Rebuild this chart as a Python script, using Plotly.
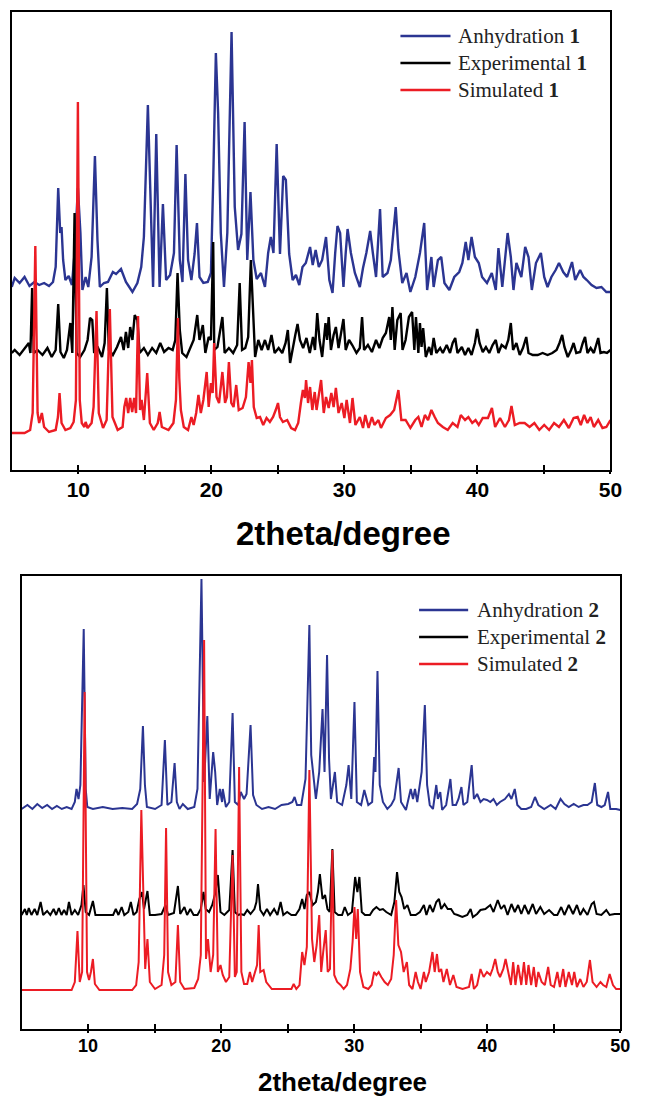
import plotly.graph_objects as go

# ---------------- Compound 1 (top panel) ----------------
# 2theta (degree) / intensity (a.u., patterns stacked with vertical offsets)
anh1_theta = [5.0, 5.22, 5.59, 5.96, 6.33, 6.7, 7.06, 7.43, 7.8, 8.1, 8.3, 8.49, 8.64, 8.74, 8.86, 9.03, 9.28, 9.52, 9.72, 9.97,
              10.16, 10.31, 10.55, 10.75, 11.0, 11.25, 11.44, 11.62, 11.93, 12.23, 12.6, 12.84, 13.21, 13.58, 13.83, 14.07, 14.44, 14.73, 14.93, 15.23,
              15.47, 15.62, 15.86, 16.11, 16.36, 16.6, 16.9, 17.19, 17.39, 17.63, 17.83, 18.05, 18.25, 18.5, 18.74, 18.92, 19.11, 19.4, 19.73, 19.97,
              20.14, 20.34, 20.51, 20.71, 20.95, 21.2, 21.52, 21.76, 22.01, 22.26, 22.5, 22.7, 22.94, 23.16, 23.41, 23.73, 24.03, 24.27, 24.47, 24.67,
              24.91, 25.16, 25.4, 25.6, 25.85, 26.11, 26.36, 26.61, 26.85, 27.1, 27.42, 27.62, 27.84, 28.08, 28.33, 28.62, 28.87, 29.11, 29.31, 29.48,
              29.68, 29.93, 30.1, 30.24, 30.49, 30.79, 31.16, 31.4, 31.65, 31.94, 32.14, 32.38, 32.68, 32.88, 33.24, 33.49, 33.86, 34.06, 34.35, 34.67,
              34.96, 35.33, 35.68, 36.0, 36.22, 36.54, 36.71, 37.03, 37.28, 37.52, 37.89, 38.26, 38.63, 38.87, 39.12, 39.32, 39.56, 39.81, 40.1, 40.35,
              40.72, 41.08, 41.38, 41.58, 41.87, 42.27, 42.51, 42.71, 42.93, 43.3, 43.59, 43.84, 44.09, 44.4, 44.77, 45.02, 45.27, 45.56, 45.88, 46.13,
              46.45, 46.74, 47.11, 47.35, 47.72, 47.97, 48.22, 48.58, 48.95, 49.32, 49.69, 50.0]
anh1_int = [183, 192, 187, 193, 184, 188, 185, 187, 184, 188, 203, 282, 237, 243, 210, 190, 194, 185, 217, 282,
            237, 180, 193, 183, 213, 314, 230, 183, 187, 188, 198, 196, 201, 188, 183, 178, 187, 203, 233, 365,
            253, 183, 336, 183, 266, 190, 195, 217, 325, 210, 188, 296, 210, 190, 216, 247, 193, 187, 188, 197,
            289, 417, 357, 237, 183, 237, 438, 263, 220, 236, 348, 210, 278, 210, 191, 197, 183, 217, 233, 217,
            326, 216, 294, 290, 216, 190, 195, 185, 203, 207, 223, 205, 220, 203, 210, 233, 190, 177, 217, 244,
            237, 183, 217, 241, 217, 197, 183, 202, 217, 239, 217, 193, 261, 193, 197, 210, 263, 220, 187, 197,
            178, 193, 217, 247, 180, 213, 183, 210, 213, 187, 180, 193, 198, 207, 228, 210, 233, 213, 207, 193,
            187, 197, 180, 222, 183, 237, 213, 180, 207, 193, 223, 213, 180, 207, 217, 193, 183, 193, 200, 207,
            198, 193, 208, 190, 200, 193, 190, 185, 182, 183, 178, 178]

exp1_theta = [5.0, 5.22, 5.59, 5.96, 6.28, 6.4, 6.53, 6.65, 6.94, 7.31, 7.68, 8.0, 8.3, 8.49, 8.66, 8.91, 9.15, 9.4, 9.55, 9.72,
              9.87, 10.14, 10.46, 10.7, 10.88, 11.05, 11.19, 11.49, 11.78, 11.98, 12.15, 12.3, 12.6, 12.91, 13.21, 13.41, 13.58, 13.75, 13.9, 14.07,
              14.24, 14.44, 14.61, 14.93, 15.23, 15.55, 15.86, 16.16, 16.45, 16.78, 17.09, 17.29, 17.46, 17.63, 17.81, 18.13, 18.42, 18.67, 18.94, 19.11,
              19.36, 19.55, 19.8, 19.97, 20.14, 20.22, 20.46, 20.83, 21.0, 21.32, 21.64, 21.94, 22.13, 22.31, 22.55, 22.77, 22.97, 23.12, 23.29, 23.53,
              23.78, 24.03, 24.27, 24.52, 24.76, 25.06, 25.33, 25.58, 25.75, 25.92, 26.12, 26.31, 26.48, 26.66, 26.9, 27.15, 27.4, 27.64, 27.79, 27.96,
              28.13, 28.33, 28.58, 28.7, 28.82, 28.99, 29.19, 29.36, 29.56, 29.76, 29.93, 30.1, 30.35, 30.59, 30.91, 31.16, 31.33, 31.48, 31.77, 32.07,
              32.38, 32.63, 32.88, 33.12, 33.37, 33.49, 33.61, 33.78, 33.98, 34.23, 34.37, 34.6, 34.85, 35.09, 35.26, 35.38, 35.56, 35.68, 35.8, 35.92,
              36.12, 36.37, 36.54, 36.71, 36.91, 37.2, 37.4, 37.69, 37.94, 38.14, 38.33, 38.5, 38.83, 39.07, 39.32, 39.56, 39.81, 39.98, 40.16, 40.4,
              40.64, 40.89, 41.14, 41.38, 41.58, 41.82, 42.12, 42.32, 42.51, 42.68, 42.93, 43.18, 43.42, 43.67, 43.84, 44.16, 44.53, 44.9, 45.27, 45.63,
              45.95, 46.17, 46.37, 46.54, 46.79, 47.04, 47.23, 47.43, 47.72, 47.92, 48.09, 48.27, 48.51, 48.75, 48.95, 49.08, 49.25, 49.5, 49.74, 50.0]
exp1_int = [117, 120, 115, 122, 127, 117, 182, 117, 120, 115, 122, 113, 120, 166, 118, 112, 120, 147, 117, 257,
            117, 113, 120, 130, 152, 150, 117, 122, 113, 127, 182, 120, 115, 123, 133, 120, 138, 122, 143, 130,
            155, 150, 117, 122, 115, 122, 117, 127, 118, 122, 120, 130, 197, 140, 117, 113, 122, 130, 155, 130,
            145, 117, 133, 130, 228, 120, 123, 153, 117, 122, 117, 125, 187, 120, 122, 133, 210, 163, 113, 130,
            120, 130, 120, 135, 117, 122, 117, 127, 140, 107, 123, 135, 146, 130, 122, 132, 117, 133, 120, 157,
            130, 113, 147, 130, 153, 120, 135, 143, 122, 140, 151, 120, 130, 125, 117, 122, 153, 120, 125, 118,
            130, 122, 132, 137, 153, 130, 163, 120, 150, 157, 120, 130, 153, 158, 120, 153, 117, 147, 123, 142,
            113, 123, 115, 132, 117, 122, 117, 125, 117, 127, 132, 117, 123, 115, 122, 115, 127, 141, 127, 118,
            123, 117, 125, 130, 117, 125, 122, 130, 147, 120, 127, 115, 122, 133, 117, 115, 115, 117, 115, 117,
            120, 127, 135, 123, 113, 120, 127, 117, 118, 127, 133, 117, 122, 117, 127, 132, 117, 118, 117, 120]

sim1_theta = [5.0, 5.96, 6.38, 6.57, 6.77, 6.94, 7.06, 7.26, 7.43, 7.8, 8.3, 8.47, 8.59, 8.74, 9.03, 9.4, 9.65, 9.82, 9.97, 10.11,
              10.26, 10.46, 10.55, 10.7, 11.0, 11.15, 11.37, 11.54, 11.86, 12.13, 12.37, 12.57, 12.96, 13.33, 13.46, 13.6, 13.75, 13.9, 14.05, 14.2,
              14.34, 14.49, 14.64, 14.76, 14.93, 15.18, 15.38, 15.67, 15.97, 16.11, 16.28, 16.78, 17.15, 17.34, 17.49, 17.59, 17.71, 17.93, 18.25, 18.5,
              18.67, 18.86, 19.03, 19.21, 19.4, 19.65, 19.8, 19.97, 20.1, 20.21, 20.39, 20.58, 20.83, 21.03, 21.17, 21.32, 21.5, 21.67, 21.87, 22.06,
              22.35, 22.6, 22.8, 22.94, 23.05, 23.19, 23.41, 23.66, 23.9, 24.15, 24.4, 24.64, 24.84, 25.01, 25.16, 25.38, 25.7, 26.0, 26.29, 26.53,
              26.73, 26.88, 27.03, 27.12, 27.27, 27.42, 27.59, 27.77, 27.91, 28.08, 28.25, 28.45, 28.62, 28.82, 29.02, 29.19, 29.36, 29.56, 29.8, 30.0,
              30.17, 30.42, 30.61, 30.83, 31.16, 31.4, 31.57, 31.82, 32.07, 32.26, 32.56, 32.75, 33.12, 33.44, 33.74, 34.06, 34.28, 34.6, 34.96, 35.33,
              35.56, 35.8, 36.05, 36.29, 36.54, 36.79, 37.03, 37.4, 37.77, 38.14, 38.5, 38.75, 39.07, 39.32, 39.61, 39.86, 40.1, 40.4, 40.79, 41.09,
              41.33, 41.7, 42.07, 42.37, 42.56, 42.81, 43.18, 43.55, 43.92, 44.28, 44.65, 45.02, 45.39, 45.76, 46.13, 46.5, 46.87, 47.23, 47.53, 47.77,
              48.02, 48.27, 48.51, 48.75, 49.08, 49.4, 49.69, 50.0]
sim1_int = [37, 37, 40, 57, 224, 57, 47, 57, 43, 38, 40, 53, 77, 47, 40, 42, 48, 70, 368, 70,
            47, 43, 48, 42, 47, 63, 159, 57, 42, 50, 161, 53, 40, 43, 63, 72, 57, 72, 58, 72,
            57, 154, 60, 70, 50, 97, 47, 40, 47, 58, 43, 40, 47, 70, 152, 92, 60, 43, 40, 53,
            45, 57, 75, 57, 70, 98, 63, 87, 77, 127, 73, 67, 98, 67, 73, 108, 67, 63, 85, 60,
            62, 73, 108, 87, 110, 63, 52, 53, 45, 52, 48, 53, 60, 67, 53, 48, 50, 42, 40, 47,
            67, 80, 72, 90, 67, 83, 60, 78, 60, 73, 90, 57, 73, 62, 77, 63, 82, 57, 67, 52,
            70, 47, 72, 45, 53, 42, 55, 42, 53, 45, 50, 42, 52, 55, 60, 80, 50, 50, 42, 50,
            53, 43, 55, 50, 60, 53, 47, 43, 40, 47, 43, 55, 50, 53, 47, 50, 45, 52, 52, 62,
            43, 52, 43, 50, 64, 45, 47, 47, 43, 47, 40, 45, 40, 47, 43, 50, 42, 52, 53, 45,
            55, 47, 53, 43, 50, 42, 43, 50]

# ---------------- Compound 2 (bottom panel) ----------------
anh2_theta = [5.0, 5.44, 5.81, 6.18, 6.55, 6.92, 7.29, 7.65, 8.02, 8.39, 8.76, 9.0, 9.13, 9.28, 9.42, 9.67, 9.82, 9.94, 10.36, 11.1,
              11.84, 12.57, 13.31, 13.68, 13.92, 14.12, 14.27, 14.42, 15.03, 15.52, 15.77, 15.96, 16.26, 16.5, 16.67, 16.87, 17.12, 17.49, 17.98, 18.22,
              18.52, 18.72, 18.96, 19.14, 19.4, 19.55, 19.7, 19.9, 20.07, 20.12, 20.36, 20.61, 20.86, 21.03, 21.28, 21.47, 21.72, 21.91, 22.21, 22.4,
              22.65, 23.07, 23.56, 24.05, 24.54, 25.04, 25.35, 25.52, 25.7, 26.02, 26.34, 26.63, 26.77, 26.92, 27.12, 27.37, 27.62, 27.77, 27.96, 28.11,
              28.25, 28.55, 28.72, 29.09, 29.41, 29.58, 29.78, 30.02, 30.2, 30.52, 30.76, 31.06, 31.35, 31.5, 31.6, 31.75, 31.92, 32.16, 32.49, 32.78,
              33.02, 33.34, 33.52, 33.89, 34.25, 34.42, 34.57, 34.74, 34.99, 35.07, 35.31, 35.48, 35.68, 35.92, 36.17, 36.29, 36.47, 36.61, 36.91, 37.23,
              37.4, 37.65, 37.84, 38.06, 38.21, 38.5, 38.83, 39.0, 39.24, 39.49, 39.73, 39.98, 40.23, 40.47, 40.72, 40.96, 41.33, 41.63, 41.82, 42.07,
              42.26, 42.56, 42.93, 43.3, 43.59, 43.84, 44.28, 44.77, 45.14, 45.51, 45.8, 46.13, 46.5, 46.87, 47.23, 47.53, 47.85, 48.09, 48.27, 48.58,
              48.83, 49.08, 49.25, 49.69, 50.0]
anh2_int = [220, 224, 220, 225, 221, 224, 220, 223, 220, 222, 220, 227, 240, 230, 244, 400, 240, 222, 220, 222,
            220, 221, 220, 225, 240, 303, 244, 222, 220, 224, 289, 224, 227, 266, 227, 220, 225, 220, 222, 240,
            450, 247, 313, 230, 277, 257, 224, 240, 227, 240, 222, 227, 316, 227, 224, 237, 230, 235, 304, 234,
            224, 220, 222, 220, 224, 225, 227, 232, 224, 224, 250, 404, 274, 254, 230, 257, 320, 257, 374, 270,
            230, 257, 227, 224, 244, 264, 230, 327, 227, 224, 239, 224, 227, 272, 257, 358, 244, 227, 220, 224,
            230, 261, 227, 219, 240, 230, 240, 227, 250, 257, 324, 244, 224, 220, 244, 230, 237, 219, 224, 250,
            224, 224, 230, 242, 224, 227, 264, 230, 235, 227, 230, 229, 227, 230, 224, 227, 230, 235, 230, 240,
            224, 220, 220, 222, 232, 224, 220, 224, 220, 230, 225, 222, 225, 222, 224, 224, 227, 246, 224, 222,
            224, 237, 220, 220, 219]

exp2_theta = [5.0, 5.25, 5.39, 5.54, 5.74, 5.98, 6.18, 6.43, 6.62, 6.92, 7.16, 7.41, 7.6, 7.8, 8.0, 8.19, 8.39, 8.56, 8.76, 9.0,
              9.25, 9.5, 9.65, 9.82, 10.07, 10.36, 10.55, 11.34, 11.88, 12.08, 12.28, 12.52, 12.72, 13.02, 13.21, 13.41, 13.65, 13.85, 14.05, 14.2,
              14.46, 14.64, 15.03, 15.52, 15.82, 16.01, 16.45, 16.75, 16.92, 17.24, 17.44, 17.68, 17.93, 18.22, 18.47, 18.67, 18.84, 19.09, 19.33, 19.58,
              19.75, 19.95, 20.24, 20.61, 20.86, 21.03, 21.28, 21.47, 21.72, 21.96, 22.21, 22.5, 22.65, 22.77, 22.94, 23.19, 23.44, 23.68, 23.98, 24.23,
              24.47, 24.67, 24.96, 25.28, 25.6, 25.89, 26.09, 26.26, 26.44, 26.63, 26.88, 27.12, 27.27, 27.42, 27.62, 27.81, 27.99, 28.16, 28.36, 28.53,
              28.8, 29.09, 29.29, 29.53, 29.83, 30.07, 30.24, 30.39, 30.57, 30.81, 31.18, 31.42, 31.67, 31.92, 32.16, 32.41, 32.78, 33.02, 33.22, 33.39,
              33.56, 33.76, 34.0, 34.25, 34.62, 34.94, 35.24, 35.43, 35.68, 35.92, 36.17, 36.37, 36.54, 36.79, 37.03, 37.28, 37.52, 37.77, 38.13, 38.5,
              38.75, 38.92, 39.24, 39.49, 39.86, 40.23, 40.47, 40.79, 41.04, 41.28, 41.53, 41.82, 42.07, 42.32, 42.56, 42.81, 43.1, 43.42, 43.67, 43.99,
              44.28, 44.65, 45.02, 45.27, 45.56, 45.8, 46.13, 46.45, 46.74, 46.99, 47.23, 47.53, 47.85, 48.02, 48.22, 48.58, 48.95, 49.2, 49.57, 50.0]
exp2_int = [114, 120, 114, 121, 114, 120, 114, 127, 114, 118, 114, 120, 114, 121, 114, 119, 114, 127, 114, 119,
            114, 124, 144, 117, 114, 128, 114, 114, 114, 120, 114, 122, 114, 117, 127, 114, 117, 130, 137, 120,
            138, 114, 114, 115, 124, 114, 116, 143, 115, 122, 114, 120, 114, 114, 120, 137, 120, 117, 124, 137,
            154, 117, 114, 119, 179, 117, 114, 115, 114, 119, 115, 120, 127, 145, 119, 114, 120, 114, 120, 114,
            127, 114, 117, 114, 114, 120, 130, 120, 134, 137, 124, 127, 137, 155, 130, 134, 120, 117, 180, 117,
            114, 114, 122, 114, 117, 152, 137, 152, 117, 114, 114, 119, 122, 119, 120, 117, 114, 127, 157, 137,
            132, 120, 124, 114, 114, 117, 124, 114, 124, 117, 127, 130, 120, 125, 120, 120, 115, 114, 112, 114,
            120, 112, 115, 119, 120, 124, 117, 129, 120, 124, 114, 125, 117, 124, 115, 124, 115, 125, 115, 122,
            115, 119, 114, 114, 122, 114, 124, 115, 124, 114, 120, 114, 125, 127, 115, 114, 119, 114, 115, 115]

sim2_theta = [5.0, 8.76, 9.0, 9.2, 9.37, 9.55, 9.74, 9.92, 10.07, 10.21, 10.36, 10.51, 10.85, 13.31, 13.61, 13.8, 14.0, 14.14, 14.29, 14.46,
              14.64, 15.03, 15.52, 15.72, 15.86, 16.01, 16.26, 16.56, 16.75, 16.92, 17.24, 17.98, 18.27, 18.47, 18.72, 18.86, 19.01, 19.21, 19.4, 19.58,
              19.75, 19.95, 20.12, 20.36, 20.61, 20.86, 21.03, 21.17, 21.35, 21.52, 21.72, 21.96, 22.16, 22.33, 22.57, 22.7, 22.82, 22.94, 23.19, 23.39,
              23.81, 24.67, 25.28, 25.45, 25.65, 25.89, 26.09, 26.26, 26.44, 26.63, 26.83, 27.0, 27.18, 27.37, 27.52, 27.67, 27.86, 28.01, 28.18, 28.36,
              28.5, 28.72, 28.97, 29.21, 29.46, 29.71, 29.88, 30.02, 30.15, 30.27, 30.44, 30.69, 31.06, 31.31, 31.5, 31.67, 31.84, 32.04, 32.29, 32.53,
              32.78, 32.97, 33.15, 33.32, 33.52, 33.72, 33.96, 34.13, 34.38, 34.62, 34.79, 34.99, 35.24, 35.38, 35.63, 35.88, 36.05, 36.22, 36.37, 36.54,
              36.71, 36.96, 37.2, 37.45, 37.69, 38.14, 38.63, 38.83, 39.0, 39.24, 39.49, 39.73, 39.98, 40.23, 40.4, 40.6, 40.79, 40.96, 41.21, 41.38,
              41.58, 41.78, 41.95, 42.12, 42.32, 42.56, 42.76, 42.93, 43.1, 43.3, 43.5, 43.67, 43.84, 44.09, 44.33, 44.58, 44.77, 45.02, 45.27, 45.46,
              45.71, 45.88, 46.13, 46.37, 46.54, 46.74, 46.99, 47.23, 47.48, 47.72, 47.92, 48.22, 48.51, 48.71, 48.95, 49.2, 49.45, 49.69, 50.0]
sim2_int = [39, 39, 47, 98, 47, 57, 337, 57, 49, 57, 70, 45, 39, 39, 44, 67, 219, 124, 60, 90,
            47, 40, 44, 74, 201, 57, 44, 47, 104, 47, 40, 41, 50, 74, 389, 70, 90, 57, 74, 200,
            57, 64, 54, 47, 52, 174, 52, 57, 262, 57, 45, 45, 57, 47, 59, 64, 104, 57, 59, 47,
            40, 40, 40, 45, 40, 44, 77, 64, 82, 259, 90, 67, 84, 114, 57, 77, 99, 57, 60, 179,
            54, 47, 44, 40, 44, 60, 87, 122, 90, 120, 57, 42, 40, 44, 57, 54, 57, 52, 47, 44,
            50, 74, 129, 84, 77, 57, 67, 44, 40, 57, 47, 40, 57, 47, 57, 77, 57, 75, 57, 60,
            47, 60, 44, 54, 42, 40, 42, 55, 40, 44, 60, 52, 57, 54, 60, 70, 57, 52, 60, 70,
            57, 44, 67, 44, 64, 44, 67, 44, 64, 44, 62, 42, 57, 47, 44, 62, 44, 42, 57, 42,
            60, 42, 57, 44, 57, 42, 50, 42, 47, 69, 47, 42, 47, 44, 42, 55, 44, 40, 40]

# ---------------- Styling ----------------
BLUE = "#2b3592"
BLACK = "#000000"
RED = "#ec1c24"
AXIS_FONT = "Liberation Sans Narrow, Liberation Sans, Arial, sans-serif"
LEGEND_FONT = "Liberation Serif, Times New Roman, serif"

W, H = 647, 1105


def px_x(p):
    return p / W


def px_y(p):
    return 1 - p / H


fig = go.Figure()

panels = [
    # (x axis, y axis, traces, line width)
    ("x", "y", [(anh1_theta, anh1_int, BLUE, "Anhydration 1"),
                (exp1_theta, exp1_int, BLACK, "Experimental 1"),
                (sim1_theta, sim1_int, RED, "Simulated 1")], 2.4),
    ("x2", "y2", [(anh2_theta, anh2_int, BLUE, "Anhydration 2"),
                  (exp2_theta, exp2_int, BLACK, "Experimental 2"),
                  (sim2_theta, sim2_int, RED, "Simulated 2")], 2.0),
]

for xa, ya, traces, lw in panels:
    for th, inten, col, name in traces:
        fig.add_trace(go.Scatter(x=th, y=inten, mode="lines", name=name,
                                 line=dict(color=col, width=lw, shape="linear"),
                                 xaxis=xa, yaxis=ya, showlegend=False,
                                 hoverinfo="skip"))

# empty traces that carry the outward half of the crossing tick marks
fig.add_trace(go.Scatter(x=[], y=[], xaxis="x3", yaxis="y", showlegend=False))
fig.add_trace(go.Scatter(x=[], y=[], xaxis="x4", yaxis="y2", showlegend=False))

top_dom_x = [px_x(12), px_x(622)]
top_dom_y = [px_y(470), px_y(12)]
bot_dom_x = [px_x(22), px_x(632)]
bot_dom_y = [px_y(1029), px_y(576)]

major = [10, 20, 30, 40, 50]
minor = [15, 25, 35, 45]


def xaxis_style(domain, anchor, font_size, lw):
    return dict(domain=domain, anchor=anchor, range=[5, 50], tickmode="array",
                tickvals=major, ticktext=[str(v) for v in major],
                ticks="inside", ticklen=5, tickwidth=1.6, tickcolor="black",
                minor=dict(tickvals=minor, ticks="inside", ticklen=5, tickwidth=1.6, tickcolor="black"),
                showline=True, mirror=True, linecolor="black", linewidth=lw,
                showgrid=False, zeroline=False,
                tickfont=dict(family=AXIS_FONT, size=font_size, color="black", weight="bold"))


def yaxis_style(domain, anchor, top, lw):
    return dict(domain=domain, anchor=anchor, range=[0, top], showline=True, mirror=True,
                linecolor="black", linewidth=lw, showticklabels=False, ticks="",
                showgrid=False, zeroline=False)


def outer_ticks(domain, anchor, overlay):
    return dict(domain=domain, anchor=anchor, overlaying=overlay, side="bottom", range=[5, 50],
                tickmode="array", tickvals=major + minor, ticks="outside", ticklen=3,
                tickwidth=1.6, tickcolor="black", showticklabels=False, showline=False,
                showgrid=False, zeroline=False)


fig.update_layout(
    width=W, height=H,
    margin=dict(l=0, r=0, t=0, b=0),
    paper_bgcolor="white", plot_bgcolor="white",
    xaxis=xaxis_style(top_dom_x, "y", 21, 2),
    yaxis=yaxis_style(top_dom_y, "x", 458, 2),
    xaxis2=xaxis_style(bot_dom_x, "y2", 18, 1.6),
    yaxis2=yaxis_style(bot_dom_y, "x2", 453, 1.6),
    xaxis3=outer_ticks(top_dom_x, "y", "x"),
    xaxis4=outer_ticks(bot_dom_x, "y2", "x2"),
)

# axis titles
fig.add_annotation(text="2theta/degree", x=px_x(350), y=px_y(533), xref="paper", yref="paper",
                   showarrow=False, xanchor="center", yanchor="middle",
                   font=dict(family=AXIS_FONT, size=33, color="black", weight="bold"))
fig.add_annotation(text="2theta/degree", x=px_x(349), y=px_y(1082), xref="paper", yref="paper",
                   showarrow=False, xanchor="center", yanchor="middle",
                   font=dict(family=AXIS_FONT, size=26, color="black", weight="bold"))

# legends: line swatch plus serif label with bold compound number
legend_rows = [
    # (x0, x1, text_x, y, colour, label, compound)
    (408, 459, 465, 36, BLUE, "Anhydration", "1"),
    (408, 459, 465, 63, BLACK, "Experimental", "1"),
    (408, 459, 465, 90, RED, "Simulated", "1"),
    (427, 477, 484, 610, BLUE, "Anhydration", "2"),
    (427, 477, 484, 637, BLACK, "Experimental", "2"),
    (427, 477, 484, 664, RED, "Simulated", "2"),
]
for x0, x1, tx, y, col, label, num in legend_rows:
    fig.add_shape(type="line", xref="paper", yref="paper",
                  x0=px_x(x0), x1=px_x(x1), y0=px_y(y), y1=px_y(y),
                  line=dict(color=col, width=2.4))
    fig.add_annotation(text=f"{label} <b>{num}</b>", x=px_x(tx), y=px_y(y),
                       xref="paper", yref="paper", showarrow=False,
                       xanchor="left", yanchor="middle",
                       font=dict(family=LEGEND_FONT, size=21, color="#222"))

fig.write_html("out.html")
